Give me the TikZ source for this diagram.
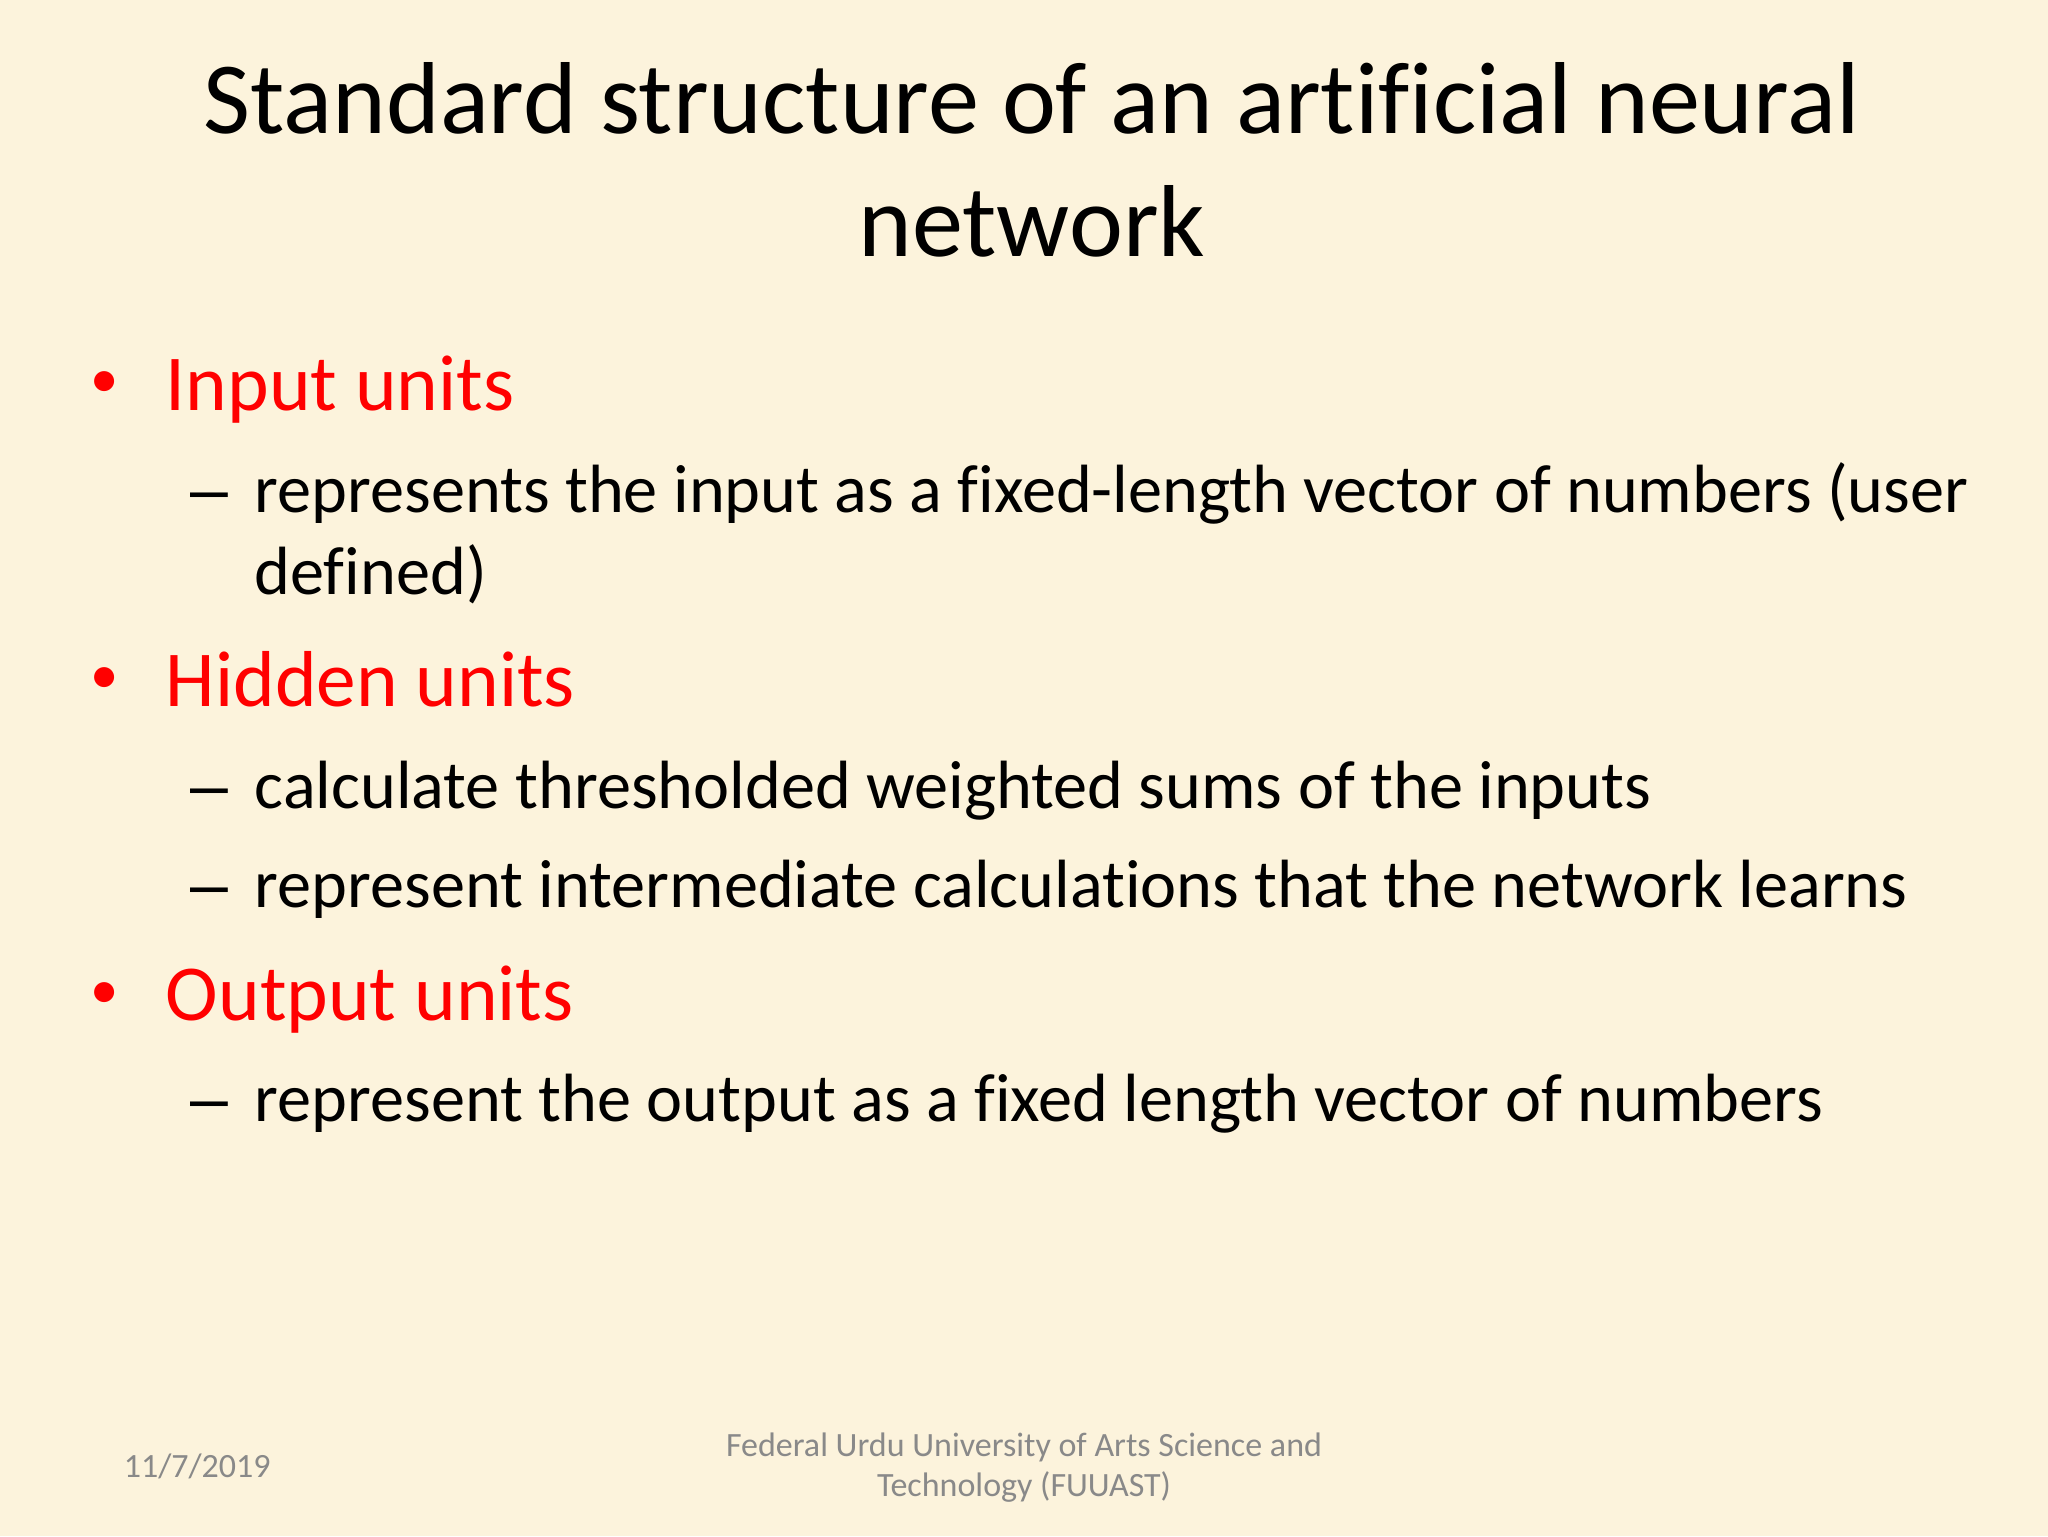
\documentclass[tikz,border=0pt]{standalone}
\usepackage{fontspec}
\setmainfont[Ligatures=NoCommon]{Carlito}
\newfontfamily\dashfont{Liberation Sans}
\definecolor{slidebg}{HTML}{FCF3DC}
\definecolor{footgray}{HTML}{898989}
\begin{document}
\begin{tikzpicture}[x=0.0162cm,y=-0.0162cm,
    every node/.style={inner sep=0pt,outer sep=0pt,anchor=base west},
    titleline/.style={anchor=base,font=\fontsize{36.1}{36}\selectfont},
    head/.style={text=red,font=\fontsize{28}{28}\selectfont},
    headdot/.style={text=red,font=\fontsize{20}{20}\selectfont},
    body/.style={font=\fontsize{24.1}{24}\selectfont},
    bodydash/.style={font=\dashfont\fontsize{24}{24}\selectfont},
    foot/.style={text=footgray,anchor=base,font=\fontsize{12}{12}\selectfont}]
    \fill[slidebg] (0,0) rectangle (1568,1176);
    \useasboundingbox (0,0) rectangle (1568,1176);
    \node[titleline] (title1) at (790,102) {Standard structure of an artificial neural};
    \node[titleline] (title2) at (790,196) {network};
    \node[headdot] (dot1) at (69,304) {•};
    \node[head] (input) at (127,314) {Input units};
    \node[bodydash] (dash1) at (146,392) {–};
    \node[body] (input1) at (195,392) {represents the input as a fixed-length vector of numbers (user};
    \node[body] (input2) at (195,455) {defined)};
    \node[headdot] (dot2) at (69,531) {•};
    \node[head] (hidden) at (127,541) {Hidden units};
    \node[bodydash] (dash2) at (146,619) {–};
    \node[body] (hidden1) at (195,619) {calculate thresholded weighted sums of the inputs};
    \node[bodydash] (dash3) at (146,695) {–};
    \node[body] (hidden2) at (195,695) {represent intermediate calculations that the network learns};
    \node[headdot] (dot3) at (69,772) {•};
    \node[head] (output) at (127,781) {Output units};
    \node[bodydash] (dash4) at (146,859) {–};
    \node[body] (output1) at (195,859) {represent the output as a fixed length vector of numbers};
    \node[foot] (date) at (151,1131) {11/7/2019};
    \node[foot] (foot1) at (784,1115) {Federal Urdu University of Arts Science and};
    \node[foot] (foot2) at (784,1146) {Technology (FUUAST)};
\end{tikzpicture}
\end{document}
